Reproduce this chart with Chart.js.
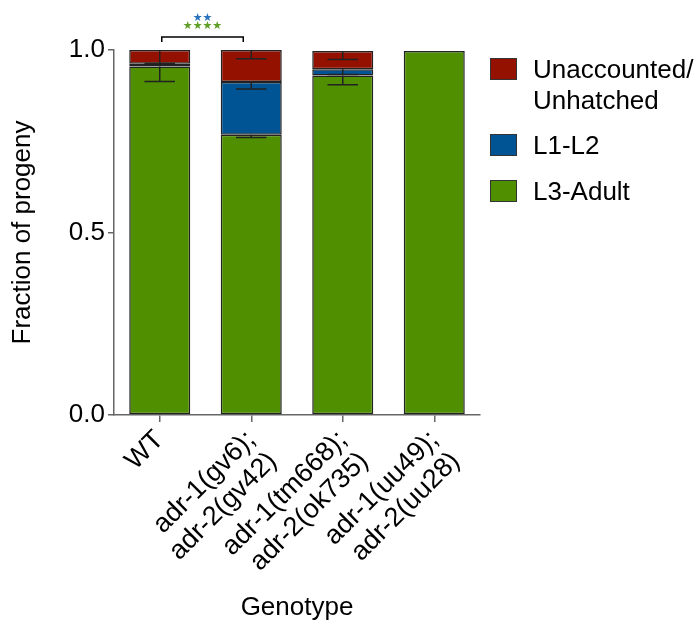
<!DOCTYPE html>
<html>
<head>
<meta charset="utf-8">
<script src="https://cdn.jsdelivr.net/npm/chart.js@4"></script>
<style>
  body { margin: 0; background: #fff; }
  #wrap { width: 699px; height: 624px; }
</style>
</head>
<body>
<div id="wrap"><canvas id="chart" width="699" height="624"></canvas></div>
<script>
const genotypes = ["WT", ["adr-1(gv6);", "adr-2(gv42)"], ["adr-1(tm668);", "adr-2(ok735)"], ["adr-1(uu49);", "adr-2(uu28)"]];
const l3Adult = [0.955, 0.768, 0.930, 0.997];
const l1L2 = [0.007, 0.144, 0.017, 0];
const unaccounted = [0.038, 0.088, 0.050, 0];
// error bars, drawn downward from the top of each segment
const l3AdultErr = [0.041, 0.008, 0.025, 0];
const l1L2Err = [0.003, 0.019, 0.014, 0];
const unaccountedErr = [0.037, 0.024, 0.023, 0];
const yTicks = [0, 0.5, 1.0];

const FONT = "'Liberation Sans', Arial, Helvetica, sans-serif";
const colors = { red: "#941100", blue: "#005493", green: "#4F8F00" };

const errorBars = {
  id: "errorBars",
  afterDatasetsDraw(chart) {
    const ctx = chart.ctx;
    const y = chart.scales.y;
    const errs = [l3AdultErr, l1L2Err, unaccountedErr];
    ctx.save();
    ctx.strokeStyle = "#222";
    ctx.lineWidth = 1.5;
    chart.data.datasets.forEach((ds, i) => {
      const meta = chart.getDatasetMeta(i);
      ds.data.forEach((v, j) => {
        const err = errs[i][j];
        if (!err) return;
        let top = 0;
        for (let k = 0; k <= i; k++) top += chart.data.datasets[k].data[j];
        const bar = meta.data[j];
        const x = bar.x;
        const half = bar.width / 4;
        const y0 = y.getPixelForValue(top);
        const y1 = y.getPixelForValue(top - err);
        ctx.beginPath();
        ctx.moveTo(x, y0);
        ctx.lineTo(x, y1);
        ctx.moveTo(x - half, y1);
        ctx.lineTo(x + half, y1);
        ctx.stroke();
      });
    });
    ctx.restore();
  }
};

const significance = {
  id: "significance",
  afterDraw(chart) {
    const ctx = chart.ctx;
    const x = chart.scales.x;
    const x0 = x.getPixelForValue(0) + 2;
    const x1 = x.getPixelForValue(1) - 8;
    const yb = chart.chartArea.top - 13;
    ctx.save();
    ctx.strokeStyle = "#000";
    ctx.lineWidth = 1.5;
    ctx.beginPath();
    ctx.moveTo(x0, yb + 5);
    ctx.lineTo(x0, yb);
    ctx.lineTo(x1, yb);
    ctx.lineTo(x1, yb + 5);
    ctx.stroke();
    ctx.textAlign = "center";
    ctx.textBaseline = "middle";
    ctx.font = "11px 'DejaVu Sans'";
    ctx.fillStyle = "#2a72bd";
    ctx.fillText("★★", (x0 + x1) / 2, yb - 19);
    ctx.fillStyle = "#5f9f27";
    ctx.fillText("★★★★", (x0 + x1) / 2, yb - 11);
    ctx.restore();
  }
};

const sideLegend = {
  id: "sideLegend",
  afterDraw(chart) {
    const ctx = chart.ctx;
    const left = chart.chartArea.right + 10;
    const items = [
      { lines: ["Unaccounted/", "Unhatched"], color: colors.red, y: 69 },
      { lines: ["L1-L2"], color: colors.blue, y: 145 },
      { lines: ["L3-Adult"], color: colors.green, y: 191 }
    ];
    ctx.save();
    ctx.font = "26px " + FONT;
    ctx.textBaseline = "middle";
    ctx.textAlign = "left";
    items.forEach((it) => {
      ctx.fillStyle = it.color;
      ctx.fillRect(left, it.y - 11, 27, 22);
      ctx.strokeStyle = "#333";
      ctx.lineWidth = 1;
      ctx.strokeRect(left + 0.5, it.y - 10.5, 26, 21);
      ctx.fillStyle = "#000";
      it.lines.forEach((ln, k) => ctx.fillText(ln, left + 43, it.y + 2 + k * 31));
    });
    ctx.restore();
  }
};

const barStyle = { borderColor: "#222", borderWidth: 1.5, borderSkipped: false, barPercentage: 0.667, categoryPercentage: 1 };

new Chart(document.getElementById("chart"), {
  type: "bar",
  data: {
    labels: genotypes,
    datasets: [
      { label: "L3-Adult", data: l3Adult, backgroundColor: colors.green, ...barStyle },
      { label: "L1-L2", data: l1L2, backgroundColor: colors.blue, ...barStyle },
      { label: "Unaccounted/Unhatched", data: unaccounted, backgroundColor: colors.red, ...barStyle }
    ]
  },
  options: {
    responsive: false,
    animation: false,
    layout: { padding: { left: 0, right: 219, top: 50, bottom: 0 } },
    plugins: { legend: { display: false }, tooltip: { enabled: false } },
    scales: {
      x: {
        stacked: true,
        afterFit(scale) { scale.height = 209; },
        grid: { display: true, drawOnChartArea: false, offset: false, tickLength: 7, color: "#666", lineWidth: 1.5 },
        border: { display: true, color: "#666", width: 1.5 },
        ticks: {
          autoSkip: false,
          minRotation: 45,
          maxRotation: 45,
          padding: 3,
          color: "#000",
          font: { family: FONT, size: 27, lineHeight: 1.12 }
        },
        title: { display: true, text: "Genotype", color: "#000", font: { family: FONT, size: 26 }, padding: { top: 0, bottom: 1 } }
      },
      y: {
        stacked: true,
        min: 0,
        max: 1,
        afterFit(scale) { scale.width = 114; },
        afterBuildTicks(scale) { scale.ticks = yTicks.map((v) => ({ value: v })); },
        grid: { display: true, drawOnChartArea: false, tickLength: 6, color: "#666", lineWidth: 1.5 },
        border: { display: true, color: "#666", width: 1.5 },
        ticks: { padding: 3, color: "#000", font: { family: FONT, size: 26 }, callback: (v) => v.toFixed(1) },
        title: { display: true, text: "Fraction of progeny", color: "#000", font: { family: FONT, size: 26 }, padding: { top: 7, bottom: 0 } }
      }
    }
  },
  plugins: [errorBars, significance, sideLegend]
});
</script>
</body>
</html>
